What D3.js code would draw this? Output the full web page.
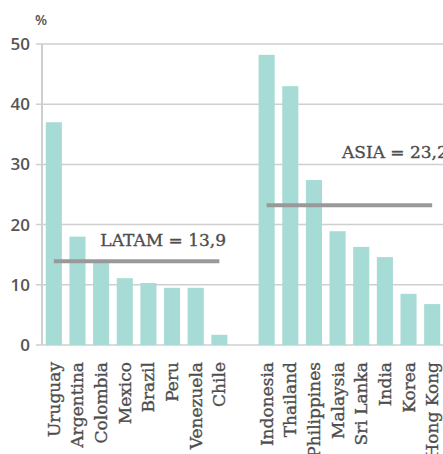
<!DOCTYPE html>
<html>
<head>
<meta charset="utf-8">
<script src="https://cdn.jsdelivr.net/npm/d3@7"></script>
<style>
  html, body { margin: 0; padding: 0; background: #fff; }
  svg { display: block; }
</style>
</head>
<body>
<svg id="chart" width="443" height="454"></svg>
<script>
// Regional groups of countries, with a blank slot between them
const latamCountries = ["Uruguay", "Argentina", "Colombia", "Mexico", "Brazil", "Peru", "Venezuela", "Chile"];
const latamValues = [37.0, 18.0, 14.0, 11.1, 10.3, 9.5, 9.5, 1.7];
const asiaCountries = ["Indonesia", "Thailand", "Philippines", "Malaysia", "Sri Lanka", "India", "Korea", "Hong Kong"];
const asiaValues = [48.2, 43.0, 27.4, 18.9, 16.3, 14.6, 8.5, 6.8];
const regionAverages = [
  { name: "LATAM", value: 13.9, label: "LATAM = 13,9" },
  { name: "ASIA", value: 23.2, label: "ASIA = 23,2" }
];
const yTicks = [0, 10, 20, 30, 40, 50];

const svg = d3.select("#chart");
const plotLeft = 42, plotRight = 444, plotTop = 44, plotBottom = 345;

const slots = [...latamCountries, "__gap__", ...asiaCountries];
const x = d3.scaleBand().domain(slots).range([plotLeft, plotRight]).paddingInner(0.32).paddingOuter(0.16);
const y = d3.scaleLinear().domain([0, 50]).range([plotBottom, plotTop]);

const bars = latamCountries.map((c, i) => ({ c, v: latamValues[i] }))
  .concat(asiaCountries.map((c, i) => ({ c, v: asiaValues[i] })));

// Gridlines
svg.append("g")
  .selectAll("line")
  .data(yTicks)
  .join("line")
  .attr("x1", plotLeft - 6).attr("x2", 443)
  .attr("y1", d => y(d)).attr("y2", d => y(d))
  .attr("stroke", "#cfcfcf").attr("stroke-width", 1.5);

// Vertical axis line
svg.append("line")
  .attr("x1", plotLeft).attr("x2", plotLeft)
  .attr("y1", y(50)).attr("y2", y(0))
  .attr("stroke", "#cfcfcf").attr("stroke-width", 2);

// Y tick labels
const yAxis = d3.axisLeft(y).tickValues(yTicks).tickSize(0).tickPadding(12);
const gy = svg.append("g").attr("transform", `translate(${plotLeft},0)`).call(yAxis);
gy.select(".domain").remove();
gy.selectAll("text")
  .attr("font-family", "'Open Sans', sans-serif")
  .attr("font-weight", 600)
  .attr("font-size", 17)
  .attr("fill", "#555");

svg.append("text")
  .attr("x", 41).attr("y", 25)
  .attr("text-anchor", "middle")
  .attr("font-family", "'Open Sans', sans-serif")
  .attr("font-weight", 600)
  .attr("font-size", 14)
  .attr("fill", "#555")
  .text("%");

// Bars
svg.append("g")
  .selectAll("rect")
  .data(bars)
  .join("rect")
  .attr("x", d => x(d.c))
  .attr("width", x.bandwidth())
  .attr("y", d => y(d.v))
  .attr("height", d => y(0) - y(d.v))
  .attr("fill", "#a7dbd5");

// Regional average lines
const groups = [latamCountries, asiaCountries];
regionAverages.forEach((r, i) => {
  const g = groups[i];
  const x1 = x(g[0]) + x.bandwidth() / 2;
  const x2 = x(g[g.length - 1]) + x.bandwidth() / 2;
  svg.append("line")
    .attr("x1", x1).attr("x2", x2)
    .attr("y1", y(r.value)).attr("y2", y(r.value))
    .attr("stroke", "#999").attr("stroke-width", 4);
});

const labelFont = "'DejaVu Serif', serif";
const serifText = sel => sel
  .attr("font-family", labelFont)
  .attr("font-size", 17)
  .attr("fill", "#4d4d4d")
  .attr("stroke", "#4d4d4d")
  .attr("stroke-width", 0.35);

svg.append("text")
  .attr("x", 226).attr("y", y(regionAverages[0].value) - 15)
  .attr("text-anchor", "end")
  .call(serifText)
  .text(regionAverages[0].label);

svg.append("text")
  .attr("x", 342).attr("y", y(regionAverages[1].value) - 47)
  .call(serifText)
  .text(regionAverages[1].label);

// Category labels, rotated
svg.append("g")
  .selectAll("text")
  .data(bars)
  .join("text")
  .attr("transform", d => `translate(${x(d.c) + x.bandwidth() / 2 + 6},${plotBottom + 17}) rotate(-90)`)
  .attr("text-anchor", "end")
  .call(serifText)
  .text(d => d.c);
</script>
</body>
</html>
